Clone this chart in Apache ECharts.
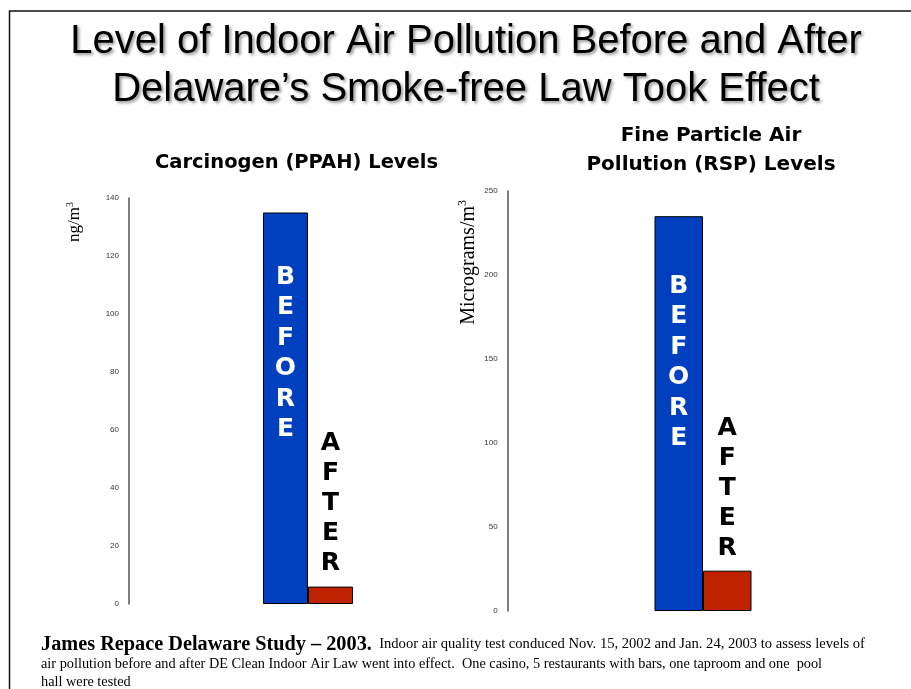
<!DOCTYPE html>
<html>
<head>
<meta charset="utf-8">
<script src="https://cdn.jsdelivr.net/npm/echarts@6/dist/echarts.min.js"></script>
<style>
html,body{margin:0;padding:0;background:#fff;}
#chart{width:911px;height:689px;}
</style>
</head>
<body>
<div id="chart"></div>
<script>
// ---- data ----
const seriesNames = ['Before', 'After'];
const ppahValues = [135, 6];
const rspValues = [235, 24];
const ppahTicks = [0, 20, 40, 60, 80, 100, 120, 140];
const rspTicks = [0, 50, 100, 150, 200, 250];
const categories = ['Level'];

const mainTitle = 'Level of Indoor Air Pollution Before and After\nDelaware\u2019s Smoke-free Law Took Effect';
const leftTitle = 'Carcinogen (PPAH) Levels';
const rightTitle = 'Fine Particle Air\nPollution (RSP) Levels';
const leftUnit = ['ng/m', '3'];
const rightUnit = ['Micrograms/m', '3'];
const noteBold = 'James Repace Delaware Study \u2013 2003.';
const noteLines = [
  '  Indoor air quality test conduced Nov. 15, 2002 and Jan. 24, 2003 to assess levels of',
  'air pollution before and after DE Clean Indoor Air Law went into effect.  One casino, 5 restaurants with bars, one taproom and one  pool',
  'hall were tested'
];

const colors = ['#0040BF', '#BE2200'];

function vertical(s) { return s.toUpperCase().split('').join('\n'); }

function yAxisCfg(gridIndex, ticks) {
  return {
    type: 'value', gridIndex: gridIndex,
    min: ticks[0], max: ticks[ticks.length - 1], interval: ticks[1] - ticks[0],
    axisLine: { show: true, lineStyle: { color: '#555', width: 1.5 } },
    axisTick: { show: false },
    splitLine: { show: false },
    axisLabel: { fontSize: 8, color: '#333', fontFamily: 'Liberation Sans', margin: 10 }
  };
}

function barSeries(gridIndex, values, barWidth, beforeDist, afterDist) {
  return [
    {
      type: 'bar', name: seriesNames[0], xAxisIndex: gridIndex, yAxisIndex: gridIndex,
      data: [values[0]], barWidth: barWidth, barGap: '0%',
      itemStyle: { color: colors[0], borderColor: '#000', borderWidth: 1 },
      label: {
        show: true, position: ['50%', beforeDist], align: 'center', verticalAlign: 'top',
        formatter: vertical(seriesNames[0]),
        color: '#fff', fontFamily: 'DejaVu Sans', fontWeight: 'bold', fontSize: 25, lineHeight: 30.5
      },
      silent: true
    },
    {
      type: 'bar', name: seriesNames[1], xAxisIndex: gridIndex, yAxisIndex: gridIndex,
      data: [values[1]], barWidth: barWidth, barGap: '0%',
      itemStyle: { color: colors[1], borderColor: '#000', borderWidth: 1 },
      label: {
        show: true, position: 'top', distance: afterDist,
        formatter: vertical(seriesNames[1]),
        color: '#000', fontFamily: 'DejaVu Sans', fontWeight: 'bold', fontSize: 25, lineHeight: 30
      },
      silent: true
    }
  ];
}

function unitText(x, y, parts, size) {
  return {
    type: 'text', x: x, y: y, rotation: Math.PI / 2,
    style: {
      text: '{a|' + parts[0] + '}{s|' + parts[1] + '}',
      align: 'right', verticalAlign: 'middle',
      rich: {
        a: { fontFamily: 'Liberation Serif', fontSize: size, color: '#000', lineHeight: size + 2 },
        s: { fontFamily: 'Liberation Serif', fontSize: Math.round(size * 0.6), color: '#000', verticalAlign: 'top', lineHeight: size + 2 }
      }
    }
  };
}

const chart = echarts.init(document.getElementById('chart'), null, { renderer: 'canvas' });
chart.setOption({
  backgroundColor: '#fff',
  animation: false,
  title: [
    {
      text: mainTitle, left: 466, top: 18, textAlign: 'center', padding: 0,
      textStyle: {
        fontFamily: 'Liberation Sans', fontSize: 40, fontWeight: 'normal', lineHeight: 48, color: '#000',
        textShadowColor: 'rgba(0,0,0,0.4)', textShadowBlur: 3, textShadowOffsetX: 2, textShadowOffsetY: 2
      }
    },
    {
      text: leftTitle, left: 296.5, top: 151, textAlign: 'center', padding: 0,
      textStyle: { fontFamily: 'DejaVu Sans', fontSize: 19.5, fontWeight: 'bold', lineHeight: 24, color: '#000' }
    },
    {
      text: rightTitle, left: 711, top: 121.5, textAlign: 'center', padding: 0,
      textStyle: { fontFamily: 'DejaVu Sans', fontSize: 20, fontWeight: 'bold', lineHeight: 29, color: '#000' }
    }
  ],
  grid: [
    { left: 129, top: 198, width: 358, height: 406 },
    { left: 507.7, top: 191, width: 390.6, height: 420 }
  ],
  xAxis: [
    { type: 'category', gridIndex: 0, data: categories, show: false },
    { type: 'category', gridIndex: 1, data: categories, show: false }
  ],
  yAxis: [yAxisCfg(0, ppahTicks), yAxisCfg(1, rspTicks)],
  series: [].concat(
    barSeries(0, ppahValues, 45, 49.5, 8),
    barSeries(1, rspValues, 48.5, 55, 7)
  ),
  graphic: [
    {
      type: 'polyline', silent: true,
      shape: { points: [[9.5, 689], [9.5, 11], [911, 11]] },
      style: { stroke: '#111', lineWidth: 1.5, fill: null }
    },
    unitText(74.5, 202, leftUnit, 17),
    unitText(468.3, 200, rightUnit, 20),
    {
      type: 'text', x: 41, y: 634,
      style: {
        text: '{b|' + noteBold + '}{m|' + noteLines[0] + '}\n{n|' + noteLines[1] + '}\n{n|' + noteLines[2] + '}',
        align: 'left', verticalAlign: 'top',
        rich: {
          b: { fontFamily: 'Liberation Serif', fontWeight: 'bold', fontSize: 20.3, color: '#000', lineHeight: 21 },
          m: { fontFamily: 'Liberation Serif', fontSize: 14.6, color: '#000', lineHeight: 18 },
          n: { fontFamily: 'Liberation Serif', fontSize: 14.3, color: '#000', lineHeight: 18 }
        }
      }
    }
  ]
});
</script>
</body>
</html>
